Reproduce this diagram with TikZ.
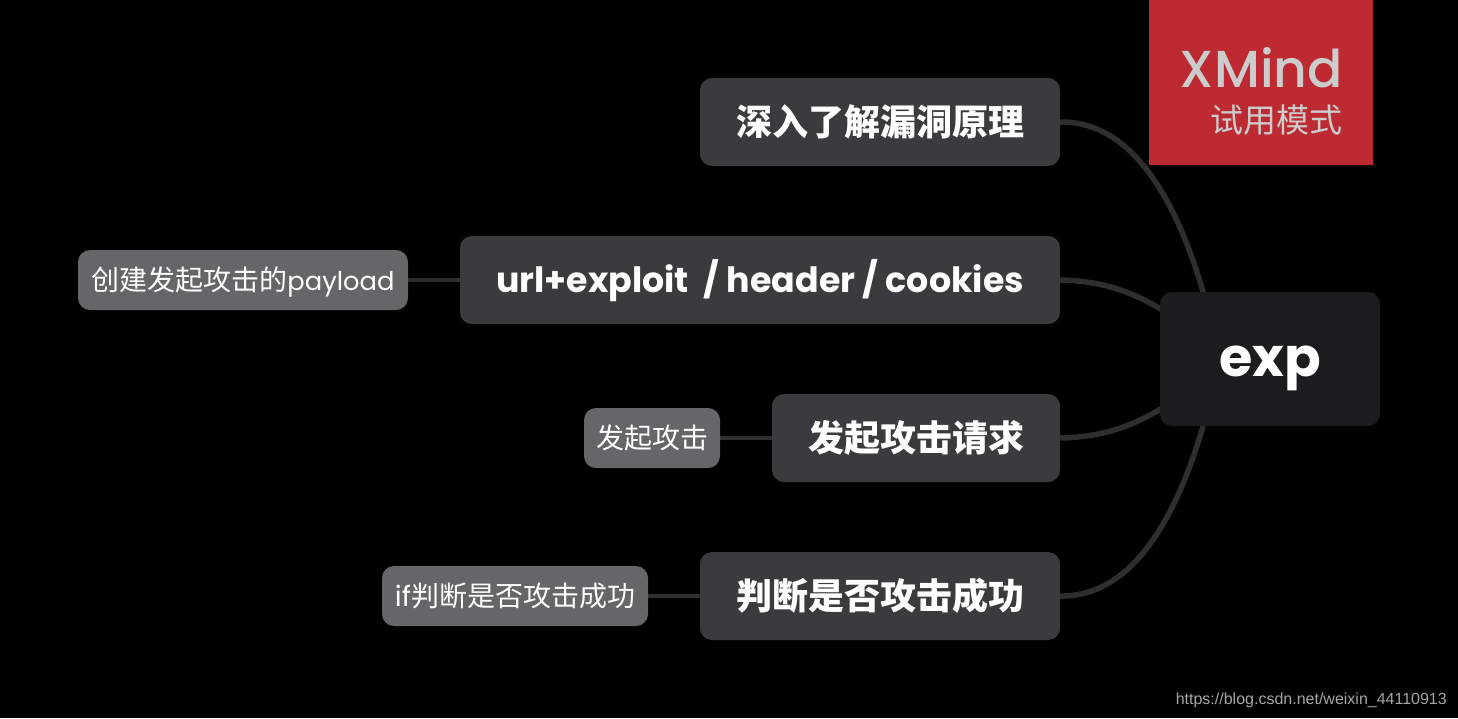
\documentclass[tikz,border=0pt]{standalone}
\usepackage{fontspec}
\setmainfont{Poppins}
\newfontfamily\cjk{Noto Sans CJK SC}
\newfontfamily\webfont{Liberation Sans}
\newfontfamily\medfont{Poppins Medium}
\usetikzlibrary{backgrounds}
\definecolor{branchfill}{HTML}{3B3B3D}
\definecolor{subfill}{HTML}{666668}
\definecolor{rootfill}{HTML}{1C1C1E}
\definecolor{linkcol}{HTML}{2E2E2E}
\definecolor{badgered}{HTML}{BD2A32}
\definecolor{badgetext}{HTML}{CCCCCC}
\newcommand{\lat}[1]{{\fontsize{25.8}{28}\selectfont #1}}
% sets a line with its baseline a given distance under the node centre
\newcommand{\onbase}[2]{\raisebox{-#1}[0pt][0pt]{#2}}
\tikzset{
  x=1pt, y=-1pt,
  topic/.style={rounded corners=12pt, inner sep=0pt, text=white, align=center},
  rootbox/.style={topic, fill=rootfill, minimum width=220pt, minimum height=134pt, font=\fontsize{54}{54}\selectfont\bfseries},
  branchbox/.style={topic, fill=branchfill, minimum height=88pt, font=\fontsize{36}{36}\selectfont\bfseries},
  subbox/.style={topic, fill=subfill, minimum height=60pt, font=\fontsize{28}{28}\selectfont},
  mainlink/.style={draw=linkcol, line width=5.5pt},
  sublink/.style={draw=linkcol, line width=4pt}
}
\begin{document}
\begin{tikzpicture}
\useasboundingbox (0,0) rectangle (1458,718);

% root and main topics
\node[rootbox] (root) at (1270,359) {\onbase{17pt}{exp}};
\node[branchbox, minimum width=360pt] (b1) at (880,122) {\cjk 深入了解漏洞原理};
\node[branchbox, minimum width=600pt] (b2) at (760,280) {\onbase{12pt}{\fontsize{34.8}{36}\selectfont url+exploit\ \ / header / cookies}};
\node[branchbox, minimum width=288pt] (b3) at (916,438) {\cjk 发起攻击请求};
\node[branchbox, minimum width=360pt] (b4) at (880,596) {\cjk 判断是否攻击成功};

% sub topics
\node[subbox, minimum width=330pt] (s2) at (243,280) {\onbase{10pt}{{\cjk 创建发起攻击的}\lat{payload}}};
\node[subbox, minimum width=136pt] (s3) at (652,438) {\onbase{10pt}{\cjk 发起攻击}};
\node[subbox, minimum width=266pt] (s4) at (515,596) {\onbase{10pt}{if{\cjk 判断是否攻击成功}}};

% hidden ends of the curves, under the root box
\coordinate (r1) at (1212,325);
\coordinate (r2) at (1180,322);
\coordinate (r3) at (1180,396);
\coordinate (r4) at (1212,393);

\begin{scope}[on background layer]
  \fill[black] (0,0) rectangle (1458,718);
  \draw[mainlink] (b1.east) .. controls (1130,121) and (1180,195) .. (r1);
  \draw[mainlink] (b2.east) .. controls (1105,281) and (1140,293) .. (r2);
  \draw[mainlink] (b3.east) .. controls (1105,437) and (1140,425) .. (r3);
  \draw[mainlink] (b4.east) .. controls (1130,597) and (1180,523) .. (r4);
  \draw[sublink] (s2) -- (b2);
  \draw[sublink] (s3) -- (b3);
  \draw[sublink] (s4) -- (b4);
\end{scope}

% trial badge
\node[fill=badgered, minimum width=224pt, minimum height=165pt, inner sep=0pt] (badge) at (1261,82.5) {};
\node[anchor=base east, inner sep=0pt, text=badgetext, font=\fontsize{52}{52}\selectfont\medfont] (bt1) at (1343,87) {XMind};
\node[anchor=base east, inner sep=0pt, text=badgetext, font=\fontsize{33}{33}\selectfont] (bt2) at (1343,132) {\cjk 试用模式};

% address line
\node[anchor=base east, inner sep=0pt, text=white!65!black, font=\fontsize{16}{16}\selectfont] (web) at (1447,704) {\webfont https://blog.csdn.net/weixin\_44110913};
\end{tikzpicture}
\end{document}
